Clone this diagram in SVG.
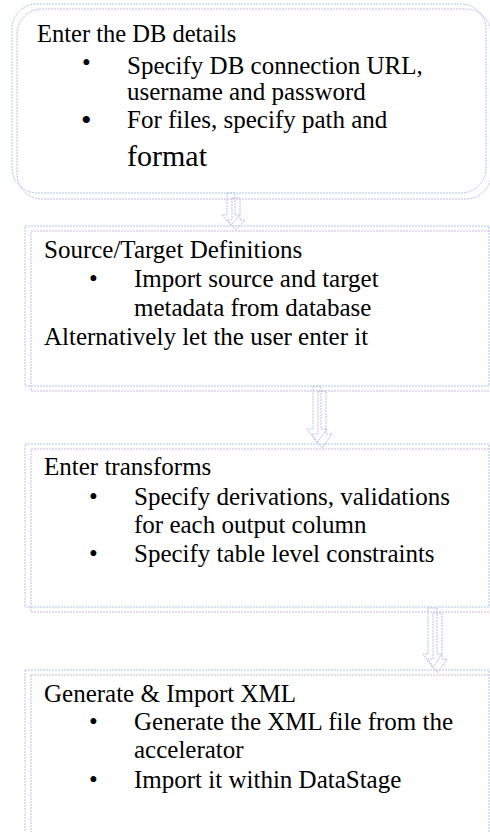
<svg xmlns="http://www.w3.org/2000/svg" width="490" height="832" viewBox="0 0 490 832">
  <style>
    .ob { fill: none; stroke: #a9c7ec; stroke-width: 1; stroke-dasharray: 2 1; }
    .op { fill: none; stroke: #cbb6e4; stroke-width: 1; stroke-dasharray: 2 1; }
    .t { font-family: "Liberation Serif", "Times New Roman", serif; font-size: 25px; fill: #000; }
    .h { font-family: "Liberation Serif", "Times New Roman", serif; font-size: 24.5px; fill: #000; }
    .bl { font-family: "Liberation Serif", "Times New Roman", serif; font-size: 25px; fill: #000; }
  </style>
  <rect width="490" height="832" fill="#ffffff"/>

  <!-- Step 1: database details -->
  <g id="node-db-details">
    <rect class="ob" x="12" y="4" width="474" height="189" rx="25" ry="25"/>
    <rect class="op" x="17" y="9" width="474" height="190" rx="25" ry="25"/>
    <text class="h" x="37" y="42">Enter the DB details</text>
    <text class="bl" x="82" y="71">•</text>
    <text class="t" x="127" y="74">Specify DB connection URL,</text>
    <text class="t" x="127" y="100">username and password</text>
    <text class="bl" x="81" y="130" style="font-size:30px">•</text>
    <text class="t" x="127" y="128">For files, specify path and</text>
    <text class="t" x="127" y="166" style="font-size:30px">format</text>
  </g>

  <!-- Step 2: source / target definitions -->
  <g id="node-definitions">
    <rect class="ob" x="25" y="226" width="464" height="160"/>
    <rect class="op" x="31" y="231" width="464" height="160"/>
    <text class="t" x="44" y="258">Source/Target Definitions</text>
    <text class="bl" x="89" y="287">•</text>
    <text class="t" x="134" y="287">Import source and target</text>
    <text class="t" x="134" y="316">metadata from database</text>
    <text class="t" x="44" y="345">Alternatively let the user enter it</text>
  </g>

  <!-- Step 3: transforms -->
  <g id="node-transforms">
    <rect class="ob" x="25" y="444" width="464" height="163"/>
    <rect class="op" x="31" y="449" width="464" height="163"/>
    <text class="t" x="44" y="475">Enter transforms</text>
    <text class="bl" x="89" y="505">•</text>
    <text class="t" x="134" y="505">Specify derivations, validations</text>
    <text class="t" x="134" y="533">for each output column</text>
    <text class="bl" x="89" y="562">•</text>
    <text class="t" x="134" y="562">Specify table level constraints</text>
  </g>

  <!-- Step 4: generate and import -->
  <g id="node-generate">
    <rect class="ob" x="25" y="670" width="464" height="170"/>
    <rect class="op" x="31" y="675" width="464" height="170"/>
    <text class="t" x="44" y="702">Generate &amp; Import XML</text>
    <text class="bl" x="89" y="730">•</text>
    <text class="t" x="134" y="730">Generate the XML file from the</text>
    <text class="t" x="134" y="758">accelerator</text>
    <text class="bl" x="89" y="788">•</text>
    <text class="t" x="134" y="788">Import it within DataStage</text>
  </g>

  <!-- Block arrows between steps -->
  <g id="connectors">
    <path class="ob" d="M227,193 H235 V215 H240 L231,225 L222,215 H227 Z"/>
    <path class="op" d="M232,198 H240 V220 H245 L236,230 L227,220 H232 Z"/>
    <path class="ob" d="M313,386 H321 V429 H327 L317,443 L307,429 H313 Z"/>
    <path class="op" d="M318,391 H326 V434 H332 L322,448 L312,434 H318 Z"/>
    <path class="ob" d="M428,608 H437 V654 H442 L432.5,668 L423,654 H428 Z"/>
    <path class="op" d="M433,613 H442 V659 H447 L437.5,673 L428,659 H433 Z"/>
  </g>
</svg>
